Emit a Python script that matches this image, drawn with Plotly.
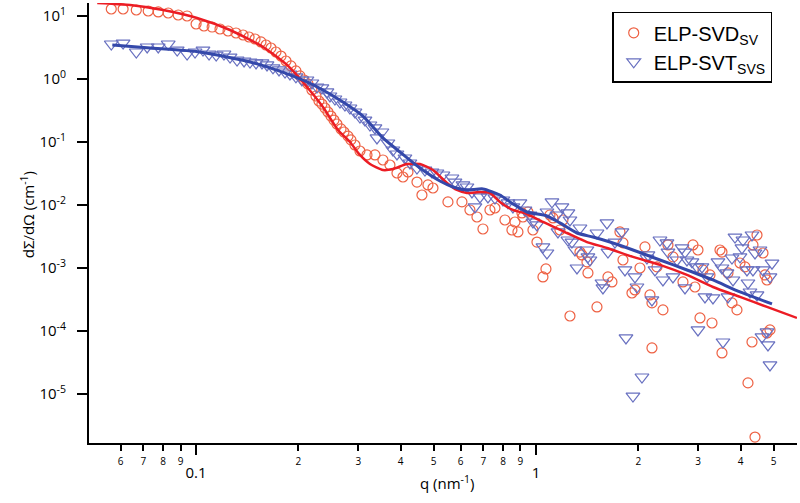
import plotly.graph_objects as go

# ELP-SVD_SV scattering data (circles)
q_svd = [0.0563, 0.0610, 0.0667, 0.0723, 0.0774, 0.0828, 0.0886, 0.0941, 0.100, 0.1055,
         0.1115, 0.1176, 0.1242, 0.1311, 0.1375, 0.1432, 0.1491, 0.1552, 0.1606, 0.1661,
         0.1718, 0.1778, 0.1839, 0.1902, 0.1967, 0.2022, 0.2078, 0.2135, 0.2192, 0.2253,
         0.2299, 0.2346, 0.2395, 0.2444, 0.2494, 0.2545, 0.2597, 0.2669, 0.2724, 0.2799,
         0.2855, 0.2934, 0.3035, 0.3183, 0.336, 0.3546, 0.3719, 0.390, 0.4062, 0.4202,
         0.4466, 0.4619, 0.4811, 0.4977, 0.5509, 0.6057, 0.6394, 0.6705, 0.6983, 0.7322,
         0.7575, 0.8105, 0.8498, 0.8673, 0.8851, 0.9094, 0.9156, 0.9472, 0.9798, 1.0068,
         1.0485, 1.070, 1.0994, 1.122, 1.1765, 1.2006, 1.259, 1.347, 1.3655, 1.4127,
         1.4222, 1.5118, 1.6287, 1.6733, 1.7666, 1.8028, 1.8028, 1.9162, 1.9557, 2.023,
         2.0928, 2.1648, 2.1942, 2.1942, 2.270, 2.364, 2.4456, 2.5298, 2.7072, 2.897,
         2.9367, 2.9969, 3.0377, 3.100, 3.2507, 3.295, 3.4786, 3.526, 3.526, 3.672,
         3.773, 3.903, 3.9834, 4.121, 4.205, 4.321, 4.350, 4.41, 4.47, 4.655,
         4.719, 4.783, 4.783, 4.881]
i_svd = [12.9, 12.9, 12.45, 12.0, 11.6, 11.15, 10.37, 10.0, 7.46, 6.93,
         6.68, 6.21, 5.78, 5.37, 4.99, 4.64, 4.31, 3.87, 3.46, 3.10,
         2.68, 2.31, 1.93, 1.61, 1.34, 1.12, 0.964, 0.833, 0.669, 0.537,
         0.447, 0.400, 0.346, 0.299, 0.258, 0.223, 0.193, 0.161, 0.144, 0.124,
         0.108, 0.0896, 0.0719, 0.0622, 0.0622, 0.0518, 0.0431, 0.0322, 0.0278, 0.0334,
         0.0231, 0.0144, 0.0208, 0.0186, 0.0112, 0.0112, 0.00833, 0.00645, 0.00416, 0.00833,
         0.00896, 0.00578, 0.00401, 0.00537, 0.00373, 0.00747, 0.00645, 0.00774, 0.00401, 0.00258,
         0.00072, 0.000965, 0.00694, 0.00622, 0.00401, 0.00578, 0.000173, 0.00179, 0.00161, 0.00125,
         0.000834, 0.000241, 0.00072, 0.0006, 0.00373, 0.0025, 0.00134, 0.000401, 0.000448, 0.001,
         0.00216, 0.000373, 0.000279, 0.0000538, 0.00104, 0.000216, 0.00232, 0.0015, 0.0006, 0.00232,
         0.000499, 0.00193, 0.000161, 0.00093, 0.000775, 0.000134, 0.00193, 0.00179, 0.0000448, 0.000834,
         0.000279, 0.000216, 0.0012, 0.00104, 0.000015, 0.0000669, 0.00232, 0.00000207, 0.00334, 0.00173,
         0.000775, 0.000645, 0.000093, 0.000104]

# ELP-SVT_SVS scattering data (triangles)
q_svt = [0.0563, 0.0610, 0.0667, 0.0718, 0.0774, 0.0828, 0.088, 0.0941, 0.0993, 0.1048,
         0.1092, 0.1146, 0.1208, 0.1259, 0.132, 0.1384, 0.1441, 0.1501, 0.1563, 0.1617,
         0.1684, 0.1754, 0.1827, 0.1889, 0.1967, 0.2049, 0.212, 0.2192, 0.2268, 0.2346,
         0.2427, 0.2477, 0.2562, 0.2651, 0.2742, 0.2836, 0.2934, 0.3035, 0.314, 0.3248,
         0.336, 0.3406, 0.3522, 0.3669, 0.3795, 0.390, 0.4117, 0.4259, 0.4466, 0.4714,
         0.4943, 0.5114, 0.5325, 0.566, 0.5777, 0.6098, 0.6266, 0.6481, 0.6615, 0.6843,
         0.7224, 0.7575, 0.7996, 0.8271, 0.8556, 0.8972, 0.9282, 0.9601, 0.9798, 1.0068,
         1.0485, 1.0773, 1.0773, 1.1143, 1.1528, 1.1606, 1.1925, 1.242, 1.259, 1.242,
         1.276, 1.3025, 1.3202, 1.3472, 1.4127, 1.4222, 1.4417, 1.5118, 1.5637, 1.5743,
         1.6177, 1.6287, 1.7079, 1.7906, 1.8276, 1.840, 1.9293, 1.9557, 1.9824, 2.0505,
         2.1213, 2.1357, 2.1942, 2.2395, 2.3166, 2.364, 2.4292, 2.4456, 2.5298, 2.5995,
         2.689, 2.7444, 2.7444, 2.7817, 2.8773, 2.9767, 2.9969, 3.079, 3.1425, 3.1853,
         3.3173, 3.4318, 3.526, 3.55, 3.6477, 3.672, 3.773, 3.799, 3.851, 3.9834,
         4.0376, 4.065, 4.177, 4.205, 4.2627, 4.321, 4.350, 4.41, 4.47, 4.5615,
         4.6236, 4.655, 4.783, 4.8155, 4.8813, 4.8813, 4.948]
i_svt = [3.59, 3.72, 2.68, 3.22, 3.22, 3.59, 2.88, 2.49, 2.68, 2.88,
         2.49, 2.40, 2.49, 2.23, 2.00, 1.93, 1.86, 1.80, 1.80, 1.67,
         1.50, 1.39, 1.29, 1.20, 1.08, 0.964, 0.964, 0.864, 0.746, 0.72,
         0.622, 0.537, 0.481, 0.431, 0.386, 0.346, 0.299, 0.249, 0.223, 0.186,
         0.167, 0.116, 0.144, 0.0964, 0.0746, 0.0645, 0.0557, 0.0464, 0.0386, 0.0359,
         0.0334, 0.0322, 0.0299, 0.0268, 0.0231, 0.0208, 0.0193, 0.0161, 0.0093, 0.0134,
         0.0134, 0.0129, 0.012, 0.0108, 0.0093, 0.0108, 0.00833, 0.00694, 0.00537, 0.00482,
         0.00216, 0.00173, 0.00774, 0.0112, 0.00694, 0.00373, 0.0093, 0.00747, 0.00578, 0.00278,
         0.00258, 0.00193, 0.001, 0.00431, 0.00193, 0.0015, 0.00134, 0.00359, 0.000578, 0.000482,
         0.00519, 0.00179, 0.00258, 0.00373, 0.00093, 0.0000775, 0.00000926, 0.00072, 0.000499, 0.0000186,
         0.00144, 0.00161, 0.000311, 0.00093, 0.00278, 0.000645, 0.0025, 0.00179, 0.00072, 0.00134,
         0.00208, 0.00179, 0.000482, 0.00134, 0.00125, 0.00104, 0.000104, 0.00104, 0.000347, 0.00072,
         0.000335, 0.00125, 0.001, 0.0000669, 0.000834, 0.000347, 0.00144, 0.000645, 0.0031, 0.0015,
         0.00208, 0.00278, 0.00093, 0.000578, 0.000416, 0.00334, 0.00093, 0.00173, 0.000373, 0.00193,
         0.0000804, 0.00093, 0.0000967, 0.00006, 0.0000289, 0.00072, 0.00119]

# model fits
q_fit_svd = [0.0512, 0.064, 0.080, 0.1007, 0.1259, 0.1574, 0.1852, 0.212, 0.2362, 0.2615,
             0.2836, 0.3035, 0.3248, 0.3546, 0.3795, 0.4173, 0.4557, 0.4977, 0.5472, 0.5855,
             0.6266, 0.6843, 0.7322, 0.7835, 0.8556, 0.9408, 1.0485, 1.2337, 1.4127, 1.6177,
             1.9293, 2.3166, 2.7817, 3.3173, 3.9834, 4.783, 5.86]
i_fit_svd = [16.1, 14.96, 12.45, 9.30, 5.99, 3.22, 1.67, 0.746, 0.359, 0.155,
             0.1, 0.0622, 0.0447, 0.0359, 0.0372, 0.0447, 0.0447, 0.0359, 0.0224, 0.0173,
             0.0155, 0.0161, 0.0155, 0.0112, 0.00833, 0.0072, 0.00537, 0.00359, 0.00258, 0.00208,
             0.0015, 0.00112, 0.000775, 0.000499, 0.000347, 0.000241, 0.000161]

q_fit_svt = [0.0567, 0.0733, 0.1027, 0.1441, 0.165, 0.1889, 0.212, 0.2362, 0.2705, 0.3097,
             0.3546, 0.398, 0.4557, 0.5218, 0.5699, 0.6266, 0.6983, 0.7835, 0.8556, 0.9408,
             1.0773, 1.1765, 1.3202, 1.4713, 1.6509, 1.9293, 2.3166, 2.7817, 3.3173, 3.9834,
             4.948]
i_fit_svt = [3.46, 3.10, 2.68, 1.86, 1.50, 1.16, 0.896, 0.669, 0.431, 0.258,
             0.116, 0.0693, 0.0386, 0.024, 0.0193, 0.0173, 0.018, 0.0144, 0.0104, 0.00774,
             0.00669, 0.00519, 0.00359, 0.0031, 0.00258, 0.00193, 0.00134, 0.00093, 0.000645, 0.000416,
             0.000269]

# axis ticks
x_minor = [0.06, 0.07, 0.08, 0.09, 0.2, 0.3, 0.4, 0.5, 0.6, 0.7, 0.8, 0.9, 2, 3, 4, 5]
x_minor_text = ['6', '7', '8', '9', '2', '3', '4', '5', '6', '7', '8', '9', '2', '3', '4', '5']
x_major = [0.1, 1]
x_major_text = ['0.1', '1']
y_ticks = [1e1, 1e0, 1e-1, 1e-2, 1e-3, 1e-4, 1e-5]
y_text = ['10<sup>1</sup>', '10<sup>0</sup>', '10<sup>-1</sup>', '10<sup>-2</sup>',
          '10<sup>-3</sup>', '10<sup>-4</sup>', '10<sup>-5</sup>']

FONT = 'Open Sans'
RED_M = 'rgb(238,96,66)'
BLUE_M = 'rgb(104,112,192)'
RED_L = 'rgb(236,28,36)'
BLUE_L = 'rgb(52,72,170)'

X_RANGE = [-1.315, 0.768]
Y_RANGE = [-5.778, 1.206]

fig = go.Figure()

fig.add_trace(go.Scatter(
    x=q_svd, y=i_svd, mode='markers', name='ELP-SVD<sub>SV</sub>',
    marker=dict(symbol='circle-open', size=10, color=RED_M, line=dict(width=1.2))
))
fig.add_trace(go.Scatter(
    x=q_svt, y=i_svt, mode='markers', name='ELP-SVT<sub>SVS</sub>',
    marker=dict(symbol='triangle-down-open', size=12, color=BLUE_M, line=dict(width=1.2))
))
fig.add_trace(go.Scatter(
    x=q_fit_svd, y=i_fit_svd, mode='lines', showlegend=False,
    line=dict(color=RED_L, width=2.5, shape='spline', smoothing=0.6)
))
fig.add_trace(go.Scatter(
    x=q_fit_svt, y=i_fit_svt, mode='lines', showlegend=False,
    line=dict(color=BLUE_L, width=3, shape='spline', smoothing=0.6)
))

fig.update_layout(
    width=800, height=503,
    margin=dict(l=89, r=3, t=3, b=60),
    plot_bgcolor='white', paper_bgcolor='white',
    font=dict(family=FONT, color='black'),
    xaxis=dict(
        type='log', range=X_RANGE, showgrid=False, zeroline=False,
        showline=True, linecolor='black', linewidth=2,
        ticks='outside', ticklen=6, tickwidth=1.5, tickcolor='black',
        tickmode='array', tickvals=x_minor, ticktext=x_minor_text,
        tickfont=dict(size=10, family=FONT), ticklabelstandoff=2,
    ),
    xaxis2=dict(
        type='log', range=X_RANGE, overlaying='x', anchor='y', side='bottom',
        showgrid=False, zeroline=False, showline=False,
        ticks='outside', ticklen=11, tickwidth=2, tickcolor='black',
        tickmode='array', tickvals=x_major, ticktext=x_major_text,
        tickfont=dict(size=15, family=FONT), ticklabelstandoff=5,
    ),
    yaxis=dict(
        type='log', range=Y_RANGE, showgrid=False, zeroline=False,
        showline=True, linecolor='black', linewidth=2,
        ticks='outside', ticklen=10, tickwidth=2, tickcolor='black',
        tickmode='array', tickvals=y_ticks, ticktext=y_text,
        tickfont=dict(size=15, family=FONT), ticklabelstandoff=8,
    ),
    legend=dict(
        x=0.739, y=0.98, xanchor='left', yanchor='top',
        bordercolor='black', borderwidth=1.5, bgcolor='white',
        font=dict(size=20, family='Liberation Sans'), tracegroupgap=0,
    ),
    annotations=[
        dict(text='q (nm<sup>-1</sup>)', xref='paper', yref='paper',
             x=0.506, y=-0.118, showarrow=False, font=dict(size=15)),
        dict(text='dΣ/dΩ (cm<sup>-1</sup>)', xref='paper', yref='paper',
             x=-0.105, y=0.518, textangle=-90, showarrow=False, font=dict(size=15)),
    ],
)

# empty trace so the second x axis (major ticks) gets drawn
fig.add_trace(go.Scatter(x=[], y=[], xaxis='x2', showlegend=False))

# drop the default page margin so the figure sits at the window corner
fig.write_html('out.html', config={'displayModeBar': False},
               post_script="document.body.style.margin='0';")
